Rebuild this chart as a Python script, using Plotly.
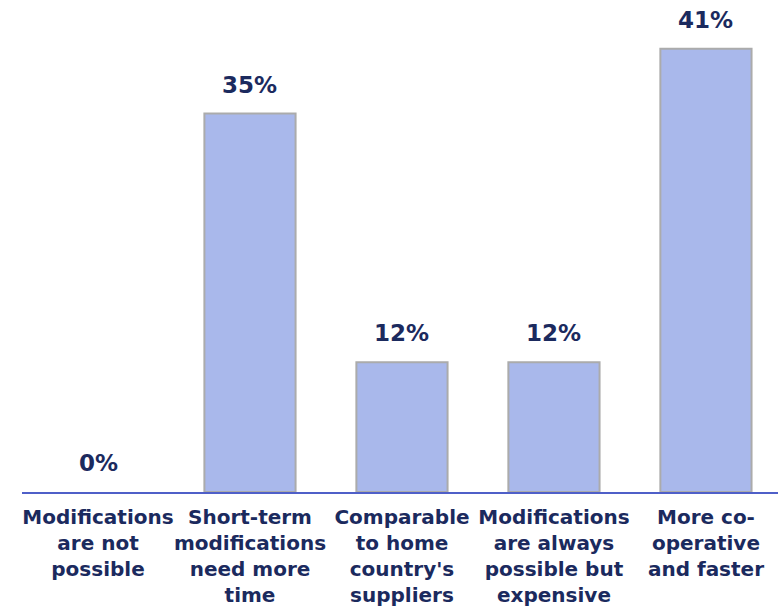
import plotly.graph_objects as go

categories = [
    "Modifications<br>are not<br>possible",
    "Short-term<br>modifications<br>need more<br>time",
    "Comparable<br>to home<br>country's<br>suppliers",
    "Modifications<br>are always<br>possible but<br>expensive",
    "More co-<br>operative<br>and faster",
]
values = [0, 35, 12, 12, 41]
value_labels = ["0%", "35%", "12%", "12%", "41%"]

navy = "#1B2A5E"
font_family = "DejaVu Sans"

fig = go.Figure()
fig.add_trace(go.Bar(
    x=list(range(len(categories))),
    y=values,
    width=0.6,
    marker=dict(
        color="#A9B8EB",
        line=dict(color="#ABABAB", width=[0 if v == 0 else 2 for v in values]),
    ),
    hoverinfo="skip",
))

for i, (v, lab) in enumerate(zip(values, value_labels)):
    fig.add_annotation(
        x=i, y=v, text="<b>%s</b>" % lab, showarrow=False,
        yanchor="bottom", yshift=14,
        font=dict(family=font_family, size=23, color=navy),
    )

fig.update_layout(
    width=778, height=606,
    margin=dict(l=22, r=0, t=0, b=114, autoexpand=False),
    paper_bgcolor="white", plot_bgcolor="white",
    showlegend=False,
    font=dict(family=font_family, color=navy),
    xaxis=dict(
        range=[-0.5, 4.474],
        tickmode="array",
        tickvals=list(range(len(categories))),
        ticktext=["<b>%s</b>" % c for c in categories],
        tickfont=dict(family=font_family, size=20, color=navy),
        tickangle=0,
        automargin=False,
        showline=True, linecolor="#4F5FC8", linewidth=2,
        ticks="", showgrid=False, zeroline=False,
        ticklabelstandoff=6,
    ),
    yaxis=dict(
        range=[0, 45.5], visible=False, showgrid=False, zeroline=False,
    ),
)

fig.write_html("out.html")
